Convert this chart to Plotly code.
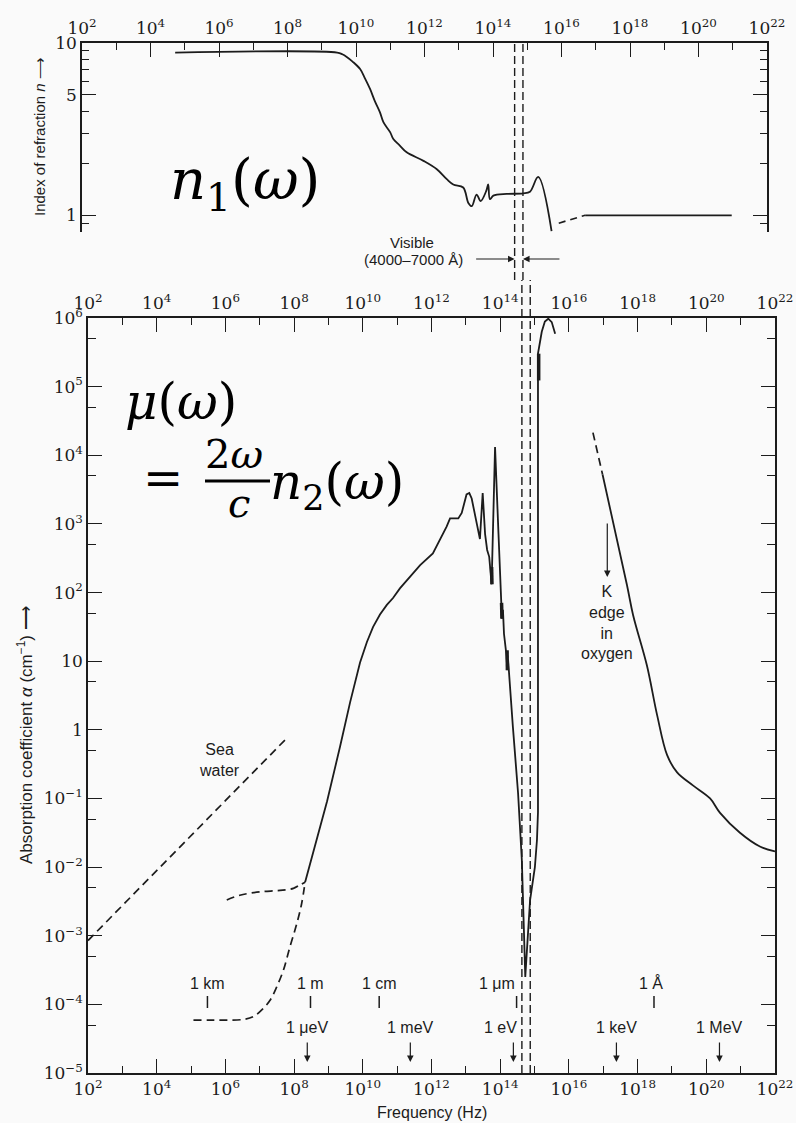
import math
import plotly.graph_objects as go

W, H = 796, 1123
INK = "#1c1c1c"
BG = "#fafafa"

# ---------------- data ----------------
# Top panel: index of refraction n of water (log10 of frequency in Hz, n)
n_logf = [4.72, 9.45, 9.60, 9.73, 9.90, 10.12, 10.25, 10.41, 10.55, 10.70, 10.80, 11.00, 11.09,
          11.28, 11.48, 11.97, 12.36, 12.65, 12.84, 13.13, 13.28, 13.38, 13.52, 13.64, 13.80,
          13.86, 13.91, 14.01, 14.40, 14.88, 15.08, 15.32, 15.71]
n_val = [8.8, 8.8, 8.6, 8.3, 7.8, 7.06, 6.3, 5.41, 4.6, 3.96, 3.47, 3.03, 2.77,
         2.54, 2.32, 2.07, 1.85, 1.62, 1.51, 1.45, 1.18, 1.13, 1.32, 1.21, 1.38,
         1.51, 1.24, 1.30, 1.33, 1.34, 1.37, 1.67, 0.81]
n_dash_logf = [15.92, 16.69]
n_dash_val = [0.90, 1.0]
n_high_logf = [16.69, 20.97]
n_high_val = [1.0, 1.0]

# Bottom panel: absorption coefficient (log10 f, log10 alpha)
sea_logf = [2.0, 7.79]
sea_loga = [-3.07, -0.12]

branch_a_logf = [6.04, 6.42, 7.00, 7.59, 7.98, 8.17, 8.32]
branch_a_loga = [-2.48, -2.41, -2.36, -2.34, -2.31, -2.26, -2.22]

branch_b_logf = [5.07, 5.50, 6.00, 6.52, 6.81, 7.10, 7.30, 7.49, 7.69, 7.88, 8.08, 8.22, 8.32]
branch_b_loga = [-4.23, -4.23, -4.23, -4.22, -4.18, -4.06, -3.94, -3.75, -3.50, -3.16, -2.82, -2.53, -2.22]

water_logf = [8.32, 8.61, 8.96, 9.34, 9.63, 9.92, 10.12, 10.30, 10.50, 10.70, 10.88, 11.08, 11.40,
              11.67, 12.04, 12.20, 12.34, 12.44, 12.54, 12.66, 12.78, 12.88, 13.02, 13.10, 13.17,
              13.32, 13.41, 13.49, 13.56, 13.62, 13.68, 13.75, 13.85, 13.95, 14.02, 14.05, 14.08,
              14.11, 14.18, 14.21, 14.23, 14.26, 14.37, 14.52, 14.63, 14.73, 14.87, 15.01, 15.07,
              15.10, 15.10, 15.21, 15.30, 15.40, 15.50, 15.60]
water_loga = [-2.22, -1.69, -1.04, -0.24, 0.40, 0.98, 1.28, 1.50, 1.68, 1.82, 1.92, 2.06, 2.24,
              2.40, 2.57, 2.72, 2.87, 2.96, 3.08, 3.08, 3.08, 3.16, 3.43, 3.45, 3.37,
              3.00, 2.78, 3.45, 2.85, 2.62, 2.52, 2.12, 4.12, 2.86, 1.85, 1.62, 1.75,
              1.40, 1.10, 0.87, 1.02, 0.78, 0.04, -0.92, -1.90, -3.60, -2.48, -2.00, -1.61,
              -1.20, 5.48, 5.80, 5.95, 5.99, 5.94, 5.77]

thick_logf = [13.75, 13.76, None, 14.04, 14.05, None, 14.20, 14.21, None, 15.12, 15.12]
thick_loga = [2.37, 2.12, None, 1.85, 1.62, None, 1.16, 0.87, None, 5.09, 5.48]

xray_dash_logf = [16.70, 16.98]
xray_dash_loga = [4.33, 3.72]
xray_logf = [16.98, 17.69, 17.87, 18.27, 18.57, 18.86, 19.15, 19.61, 20.11, 20.40, 20.98, 21.56, 22.0]
xray_loga = [3.72, 2.11, 1.67, 0.94, 0.21, -0.37, -0.62, -0.81, -1.00, -1.21, -1.50, -1.70, -1.77]

# reference markers
lam_labels = ["1 km", "1 m", "1 cm", "1 \u03bcm", "1 \u00c5"]
lam_freq = [3e5, 3e8, 3e10, 3e14, 3e18]
en_labels = ["1 \u03bceV", "1 meV", "1 eV", "1 keV", "1 MeV"]
en_freq = [2.418e8, 2.418e11, 2.418e14, 2.418e17, 2.418e20]
vis_freq = [4.28e14, 7.49e14]      # 7000 A and 4000 A
k_edge_freq = 1.31e17

x_major_exp = list(range(2, 23, 2))
x_minor_exp = list(range(3, 22, 2))
y2_exp = list(range(-5, 7))


# ---------------- helpers ----------------
def fx(p):
    return p / W


def fy(p):
    return 1 - p / H


def pow10(seq):
    return [None if v is None else 10.0 ** v for v in seq]


def sup(k):
    return "10<sup>" + str(k).replace("-", "\u2212") + "</sup>"


fig = go.Figure()

line_solid = dict(color=INK, width=1.8)
line_dash = dict(color=INK, width=1.7, dash="8px,5px")

# top panel
fig.add_trace(go.Scatter(x=pow10(n_logf), y=n_val, xaxis="x", yaxis="y", mode="lines",
                         line=line_solid, line_shape="spline", hoverinfo="skip"))
fig.add_trace(go.Scatter(x=pow10(n_dash_logf), y=n_dash_val, xaxis="x", yaxis="y", mode="lines",
                         line=dict(color=INK, width=1.7, dash="7px,5px"), hoverinfo="skip"))
fig.add_trace(go.Scatter(x=pow10(n_high_logf), y=n_high_val, xaxis="x", yaxis="y", mode="lines",
                         line=line_solid, hoverinfo="skip"))

# bottom panel
fig.add_trace(go.Scatter(x=pow10(sea_logf), y=pow10(sea_loga), xaxis="x2", yaxis="y2",
                         mode="lines", line=line_dash, hoverinfo="skip"))
fig.add_trace(go.Scatter(x=pow10(branch_a_logf), y=pow10(branch_a_loga), xaxis="x2", yaxis="y2",
                         mode="lines", line=line_dash, line_shape="spline", hoverinfo="skip"))
fig.add_trace(go.Scatter(x=pow10(branch_b_logf), y=pow10(branch_b_loga), xaxis="x2", yaxis="y2",
                         mode="lines", line=line_dash, line_shape="spline", hoverinfo="skip"))
fig.add_trace(go.Scatter(x=pow10(water_logf), y=pow10(water_loga), xaxis="x2", yaxis="y2",
                         mode="lines", line=line_solid, hoverinfo="skip"))
fig.add_trace(go.Scatter(x=pow10(thick_logf), y=pow10(thick_loga), xaxis="x2", yaxis="y2",
                         mode="lines", line=dict(color=INK, width=3.5), connectgaps=False,
                         hoverinfo="skip"))
fig.add_trace(go.Scatter(x=pow10(xray_dash_logf), y=pow10(xray_dash_loga), xaxis="x2", yaxis="y2",
                         mode="lines", line=line_dash, hoverinfo="skip"))
fig.add_trace(go.Scatter(x=pow10(xray_logf), y=pow10(xray_loga), xaxis="x2", yaxis="y2",
                         mode="lines", line=line_solid, line_shape="spline", hoverinfo="skip"))
# dummy trace so the top axis of the lower panel is drawn
fig.add_trace(go.Scatter(x=[1e2, 1e22], y=[1e-5, 1e-5], xaxis="x3", yaxis="y2", mode="none",
                         hoverinfo="skip"))

# ---------------- axes ----------------
tickfont = dict(family="DejaVu Serif", size=17, color=INK)


def xaxis_common(domain, anchor, side):
    return dict(type="log", range=[2, 22], domain=domain, anchor=anchor, side=side,
                automargin=False,
                showline=True, linecolor=INK, linewidth=1.5, showgrid=False, zeroline=False,
                ticks="inside", ticklen=14, tickwidth=1.3, tickcolor=INK,
                tickmode="array", tickvals=[10.0 ** k for k in x_major_exp],
                ticktext=[sup(k) for k in x_major_exp], tickfont=tickfont,
                minor=dict(tickmode="array", tickvals=[10.0 ** k for k in x_minor_exp],
                           ticks="inside", ticklen=7, tickwidth=1.3, tickcolor=INK,
                           showgrid=False))


top_dom_x = [fx(82), fx(767)]
top_dom_y = [fy(232), fy(43)]
bot_dom_x = [fx(88), fx(775)]
bot_dom_y = [fy(1073), fy(318)]

xaxis3 = xaxis_common(bot_dom_x, "y2", "top")
xaxis3["overlaying"] = "x2"

y2_text = []
for k in y2_exp:
    if k == 0:
        y2_text.append("1")
    elif k == 1:
        y2_text.append("10")
    else:
        y2_text.append(sup(k))

fig.update_layout(
    width=W, height=H, autosize=False,
    margin=dict(l=0, r=0, t=0, b=0, pad=0),
    paper_bgcolor=BG, plot_bgcolor=BG,
    showlegend=False,
    xaxis=xaxis_common(top_dom_x, "y", "top"),
    xaxis2=xaxis_common(bot_dom_x, "y2", "bottom"),
    xaxis3=xaxis3,
    yaxis=dict(type="log", range=[math.log10(0.8), 1], domain=top_dom_y, anchor="x",
               automargin=False,
               showline=True, mirror="ticks", linecolor=INK, linewidth=1.5,
               showgrid=False, zeroline=False, ticks="inside", ticklen=14, tickwidth=1.3,
               tickcolor=INK, tickmode="array", tickvals=[1, 5, 10], ticktext=["1", "5", "10"],
               tickfont=tickfont,
               minor=dict(tickmode="array", tickvals=[0.8, 0.9, 2, 3, 4, 6, 7, 8, 9],
                          ticks="inside", ticklen=7, tickwidth=1.3, tickcolor=INK,
                          showgrid=False)),
    yaxis2=dict(type="log", range=[-5, 6], domain=bot_dom_y, anchor="x2",
                automargin=False,
                showline=True, mirror="ticks", linecolor=INK, linewidth=1.5,
                showgrid=False, zeroline=False, ticks="inside", ticklen=14, tickwidth=1.3,
                tickcolor=INK, tickmode="array", tickvals=[10.0 ** k for k in y2_exp],
                ticktext=y2_text, tickfont=tickfont,
                minor=dict(tickmode="array", tickvals=[5 * 10.0 ** k for k in range(-5, 6)],
                           ticks="inside", ticklen=8, tickwidth=1.3, tickcolor=INK,
                           showgrid=False)),
)

# ---------------- shapes ----------------
shapes = []
for f in vis_freq:
    shapes.append(dict(type="line", xref="x", yref="paper", x0=f, x1=f, y0=fy(280), y1=fy(43),
                       line=dict(color=INK, width=1.4, dash="8px,4px")))
    shapes.append(dict(type="line", xref="x2", yref="paper", x0=f, x1=f, y0=fy(1073), y1=fy(280),
                       line=dict(color=INK, width=1.4, dash="8px,4px")))
for f in lam_freq:
    shapes.append(dict(type="line", xref="x2", yref="paper", x0=f, x1=f, y0=fy(1008), y1=fy(996),
                       line=dict(color=INK, width=1.5)))
# fraction bar of the overlaid formula
shapes.append(dict(type="line", xref="paper", yref="paper", x0=fx(205), x1=fx(270),
                   y0=fy(481), y1=fy(481), line=dict(color="black", width=3)))
fig.update_layout(shapes=shapes)

# ---------------- annotations ----------------
ann = []
sans = "Liberation Sans"
big = "DejaVu Serif"


def text(t, x, y, size, family=sans, xanchor="center", yanchor="middle", angle=0, color=INK):
    ann.append(dict(text=t, x=x, y=y, xref="paper", yref="paper", showarrow=False,
                    xanchor=xanchor, yanchor=yanchor, textangle=angle,
                    font=dict(family=family, size=size, color=color)))


# overlaid formula
text("<i>n</i><sub>1</sub>(<i>\u03c9</i>)", fx(168), fy(183), 56, big, "left", color="black")
text("<i>\u03bc</i>(<i>\u03c9</i>)", fx(123), fy(402), 50, big, "left", color="black")
text("=", fx(141), fy(478), 48, big, "left", color="black")
text("2<i>\u03c9</i>", fx(203), fy(454), 40, big, "left", color="black")
text("<i>c</i>", fx(226), fy(503), 40, big, "left", color="black")
text("<i>n</i><sub>2</sub>(<i>\u03c9</i>)", fx(268), fy(486), 50, big, "left", color="black")

# axis titles
text("Frequency (Hz)", fx(432), fy(1112), 16)
text("Index of refraction <i>n</i> \u27f6", fx(40), fy(137), 15, angle=-90)
text("Absorption coefficient <i>\u03b1</i> (cm<sup>\u22121</sup>) \u27f6", fx(25), fy(735), 17,
     angle=-90)

# visible band
text("Visible", fx(412), fy(243), 15)
text("(4000\u20137000 \u00c5)", fx(413), fy(259), 15)
for f, shift in zip(vis_freq, [-40, 38]):
    ann.append(dict(text="", x=math.log10(f), y=fy(259), xref="x", yref="paper",
                    showarrow=True, ax=shift, ay=0, arrowhead=2, arrowsize=1.1,
                    arrowwidth=1.2, arrowcolor=INK))

# labels in lower panel
text("Sea<br>water", fx(220), fy(760), 16)
text("K<br>edge<br>in<br>oxygen", fx(607), fy(622), 16)
ann.append(dict(text="", x=math.log10(k_edge_freq), y=fy(577), xref="x2", yref="paper",
                showarrow=True, ax=0, ay=-55, arrowhead=2, arrowsize=1.1, arrowwidth=1.2,
                arrowcolor=INK))

lam_shift = [0, 0, 0, -20, -3]
for lab, f, s in zip(lam_labels, lam_freq, lam_shift):
    ann.append(dict(text=lab, x=math.log10(f), y=fy(983), xref="x2", yref="paper",
                    xanchor="center", yanchor="middle",
                    showarrow=False, xshift=s, font=dict(family=sans, size=16, color=INK)))

en_shift = [0, 0, -13, 0, 0]
for lab, f, s in zip(en_labels, en_freq, en_shift):
    ann.append(dict(text=lab, x=math.log10(f), y=fy(1027), xref="x2", yref="paper",
                    xanchor="center", yanchor="middle",
                    showarrow=False, xshift=s, font=dict(family=sans, size=16, color=INK)))
    ann.append(dict(text="", x=math.log10(f), y=fy(1062), xref="x2", yref="paper",
                    showarrow=True, ax=0, ay=-21, arrowhead=2, arrowsize=1.1, arrowwidth=1.2,
                    arrowcolor=INK))

fig.update_layout(annotations=ann)

fig.write_html("out.html")
